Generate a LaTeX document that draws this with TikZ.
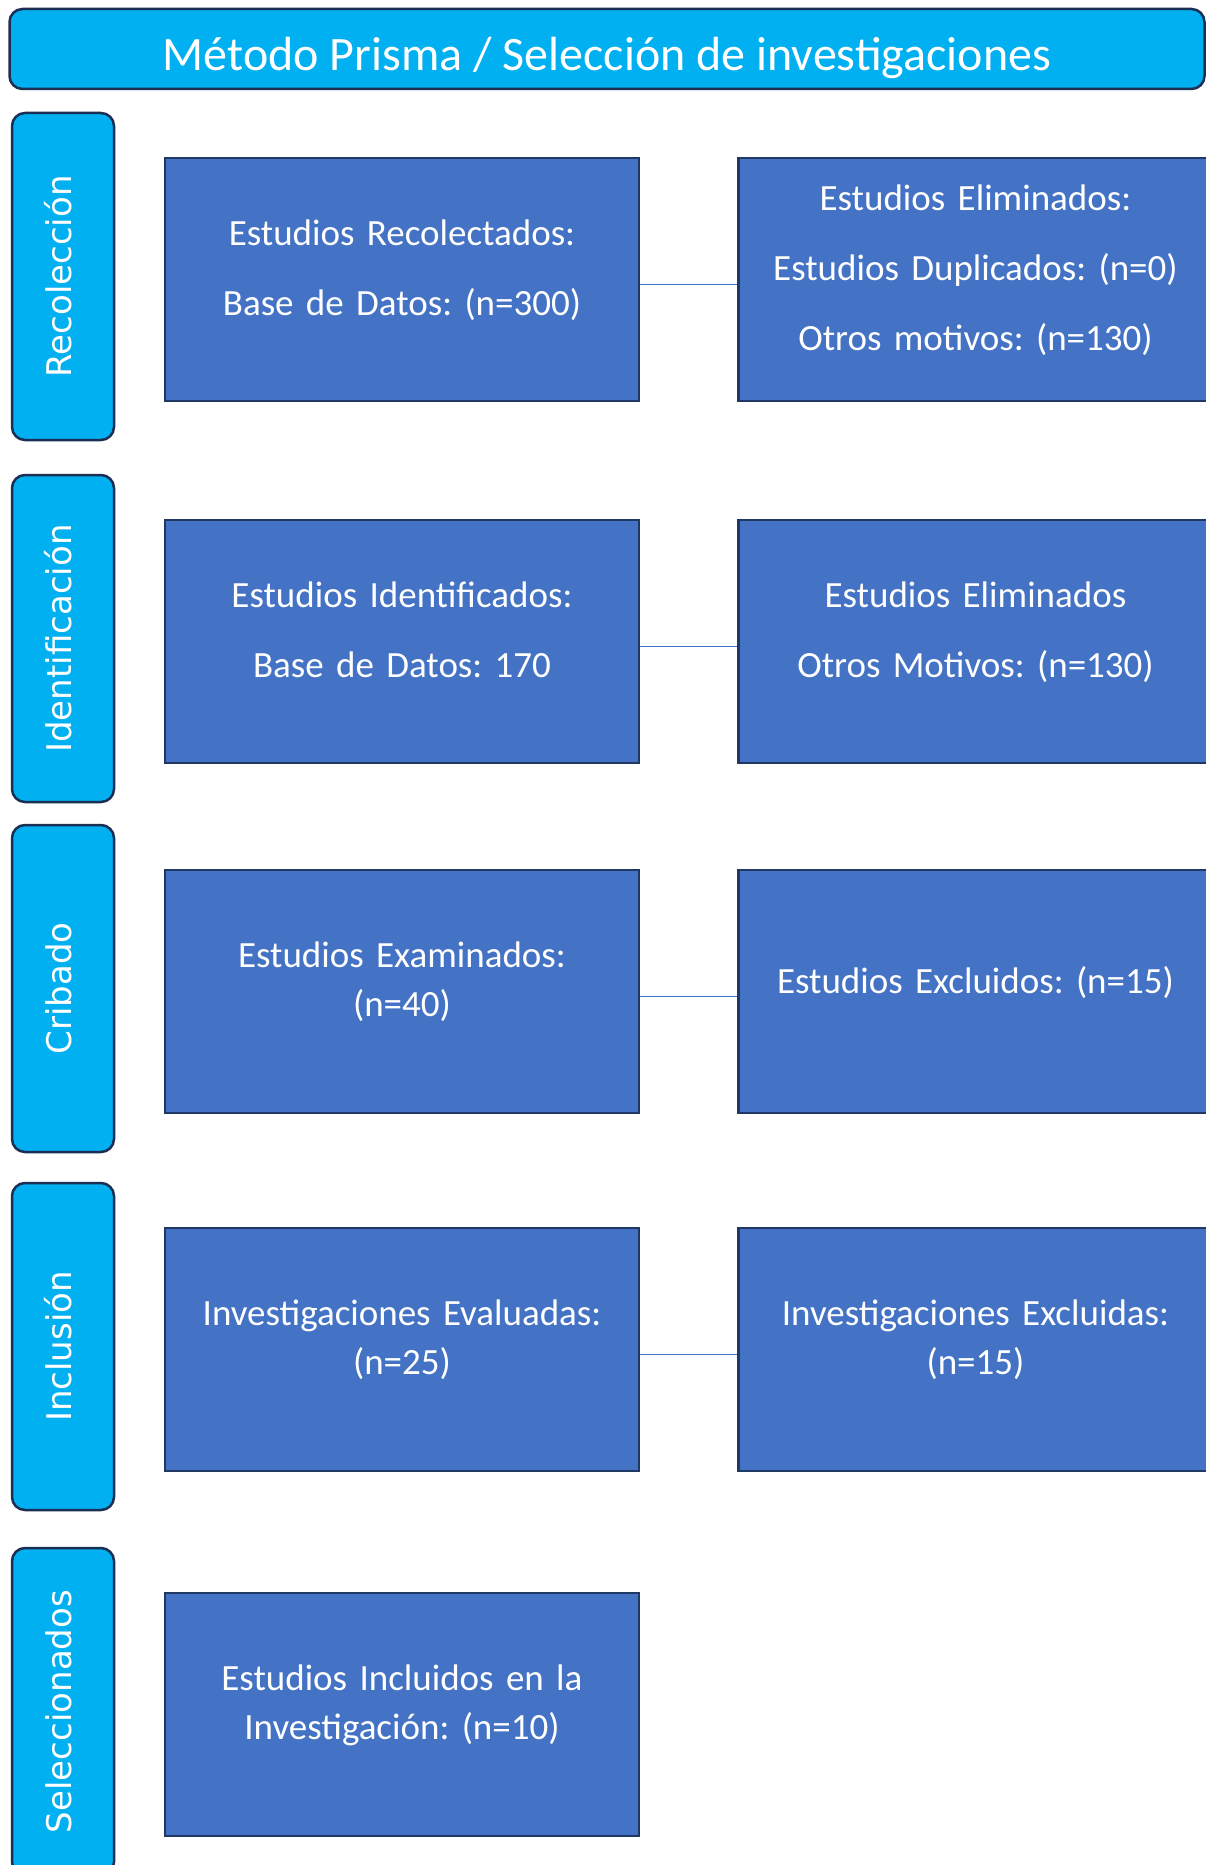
\documentclass[tikz,border=0pt]{standalone}
\usepackage{fontspec}
\setmainfont{Carlito}
\newfontfamily\tabfont{DejaVu Sans}
\usetikzlibrary{positioning}
\definecolor{boxblue}{HTML}{4472C4}
\definecolor{boxline}{HTML}{1F3864}
\definecolor{tabcyan}{HTML}{00B0F0}
\definecolor{tabline}{HTML}{1B2F55}
\newcommand{\stagelabel}[1]{\rotatebox{90}{\raisebox{-8pt}[0pt][0pt]{#1}}}

\begin{document}
\begin{tikzpicture}[x=1pt,y=-1pt,
  main node/.style={rectangle,fill=boxblue,draw=boxline,line width=2.5pt,
    minimum width=474pt,minimum height=243pt,text width=462pt,align=center,
    text=white,font=\fontsize{37}{49}\selectfont\frenchspacing,
    execute at end node={\vrule width0pt height0pt depth24pt}},
  stage node/.style={rectangle,rounded corners=13pt,fill=tabcyan,draw=tabline,
    line width=2.5pt,minimum width=102pt,minimum height=327pt,text=white,
    font=\tabfont\fontsize{34}{40}\selectfont},
  title node/.style={stage node,minimum width=1195pt,minimum height=80pt,
    text height=44pt,text depth=0pt,font=\fontsize{48}{56}\selectfont},
  link/.style={draw=boxblue,line width=1.3pt}]
  \useasboundingbox (0,0) rectangle (1206,1865);
  \node[title node] (title) at (607,49) {Método Prisma / Selección de investigaciones};
  \node[main node] (rec) at (402,279.5) {Estudios Recolectados:\\[21pt]Base de Datos: (n=300)};
  \node[main node] (recx) [right=97pt of rec] {Estudios Eliminados:\\[21pt]Estudios Duplicados: (n=0)\\[21pt]Otros motivos: (n=130)};
  \node[main node] (idn) [below=116.5pt of rec] {Estudios Identificados:\\[21pt]Base de Datos: 170};
  \node[main node] (idnx) [right=97pt of idn] {Estudios Eliminados\\[21pt]Otros Motivos: (n=130)};
  \node[main node] (cri) [below=104.5pt of idn] {Estudios Examinados:\\(n=40)};
  \node[main node] (crix) [right=97pt of cri] {Estudios Excluidos: (n=15)};
  \node[main node] (inc) [below=112.5pt of cri] {Investigaciones Evaluadas:\\(n=25)};
  \node[main node] (incx) [right=97pt of inc] {Investigaciones Excluidas:\\(n=15)};
  \node[main node] (sel) [below=119.5pt of inc] {Estudios Incluidos en la\\Investigación: (n=10)};
  \node[stage node] (srec) [left=48.5pt of rec,yshift=3pt] {\stagelabel{Recolección}};
  \node[stage node] (sidn) [left=48.5pt of idn,yshift=3pt] {\stagelabel{Identificación}};
  \node[stage node] (scri) [left=48.5pt of cri,yshift=3pt] {\stagelabel{Cribado}};
  \node[stage node] (sinc) [left=48.5pt of inc,yshift=3pt] {\stagelabel{Inclusión}};
  \node[stage node] (ssel) [left=48.5pt of sel,yshift=3pt] {\stagelabel{Seleccionados}};
  \path[link]
     ([yshift=-5pt]rec.east) edge ([yshift=-5pt]recx.west)
     ([yshift=-5pt]idn.east) edge ([yshift=-5pt]idnx.west)
     ([yshift=-5pt]cri.east) edge ([yshift=-5pt]crix.west)
     ([yshift=-5pt]inc.east) edge ([yshift=-5pt]incx.west);
\end{tikzpicture}
\end{document}
